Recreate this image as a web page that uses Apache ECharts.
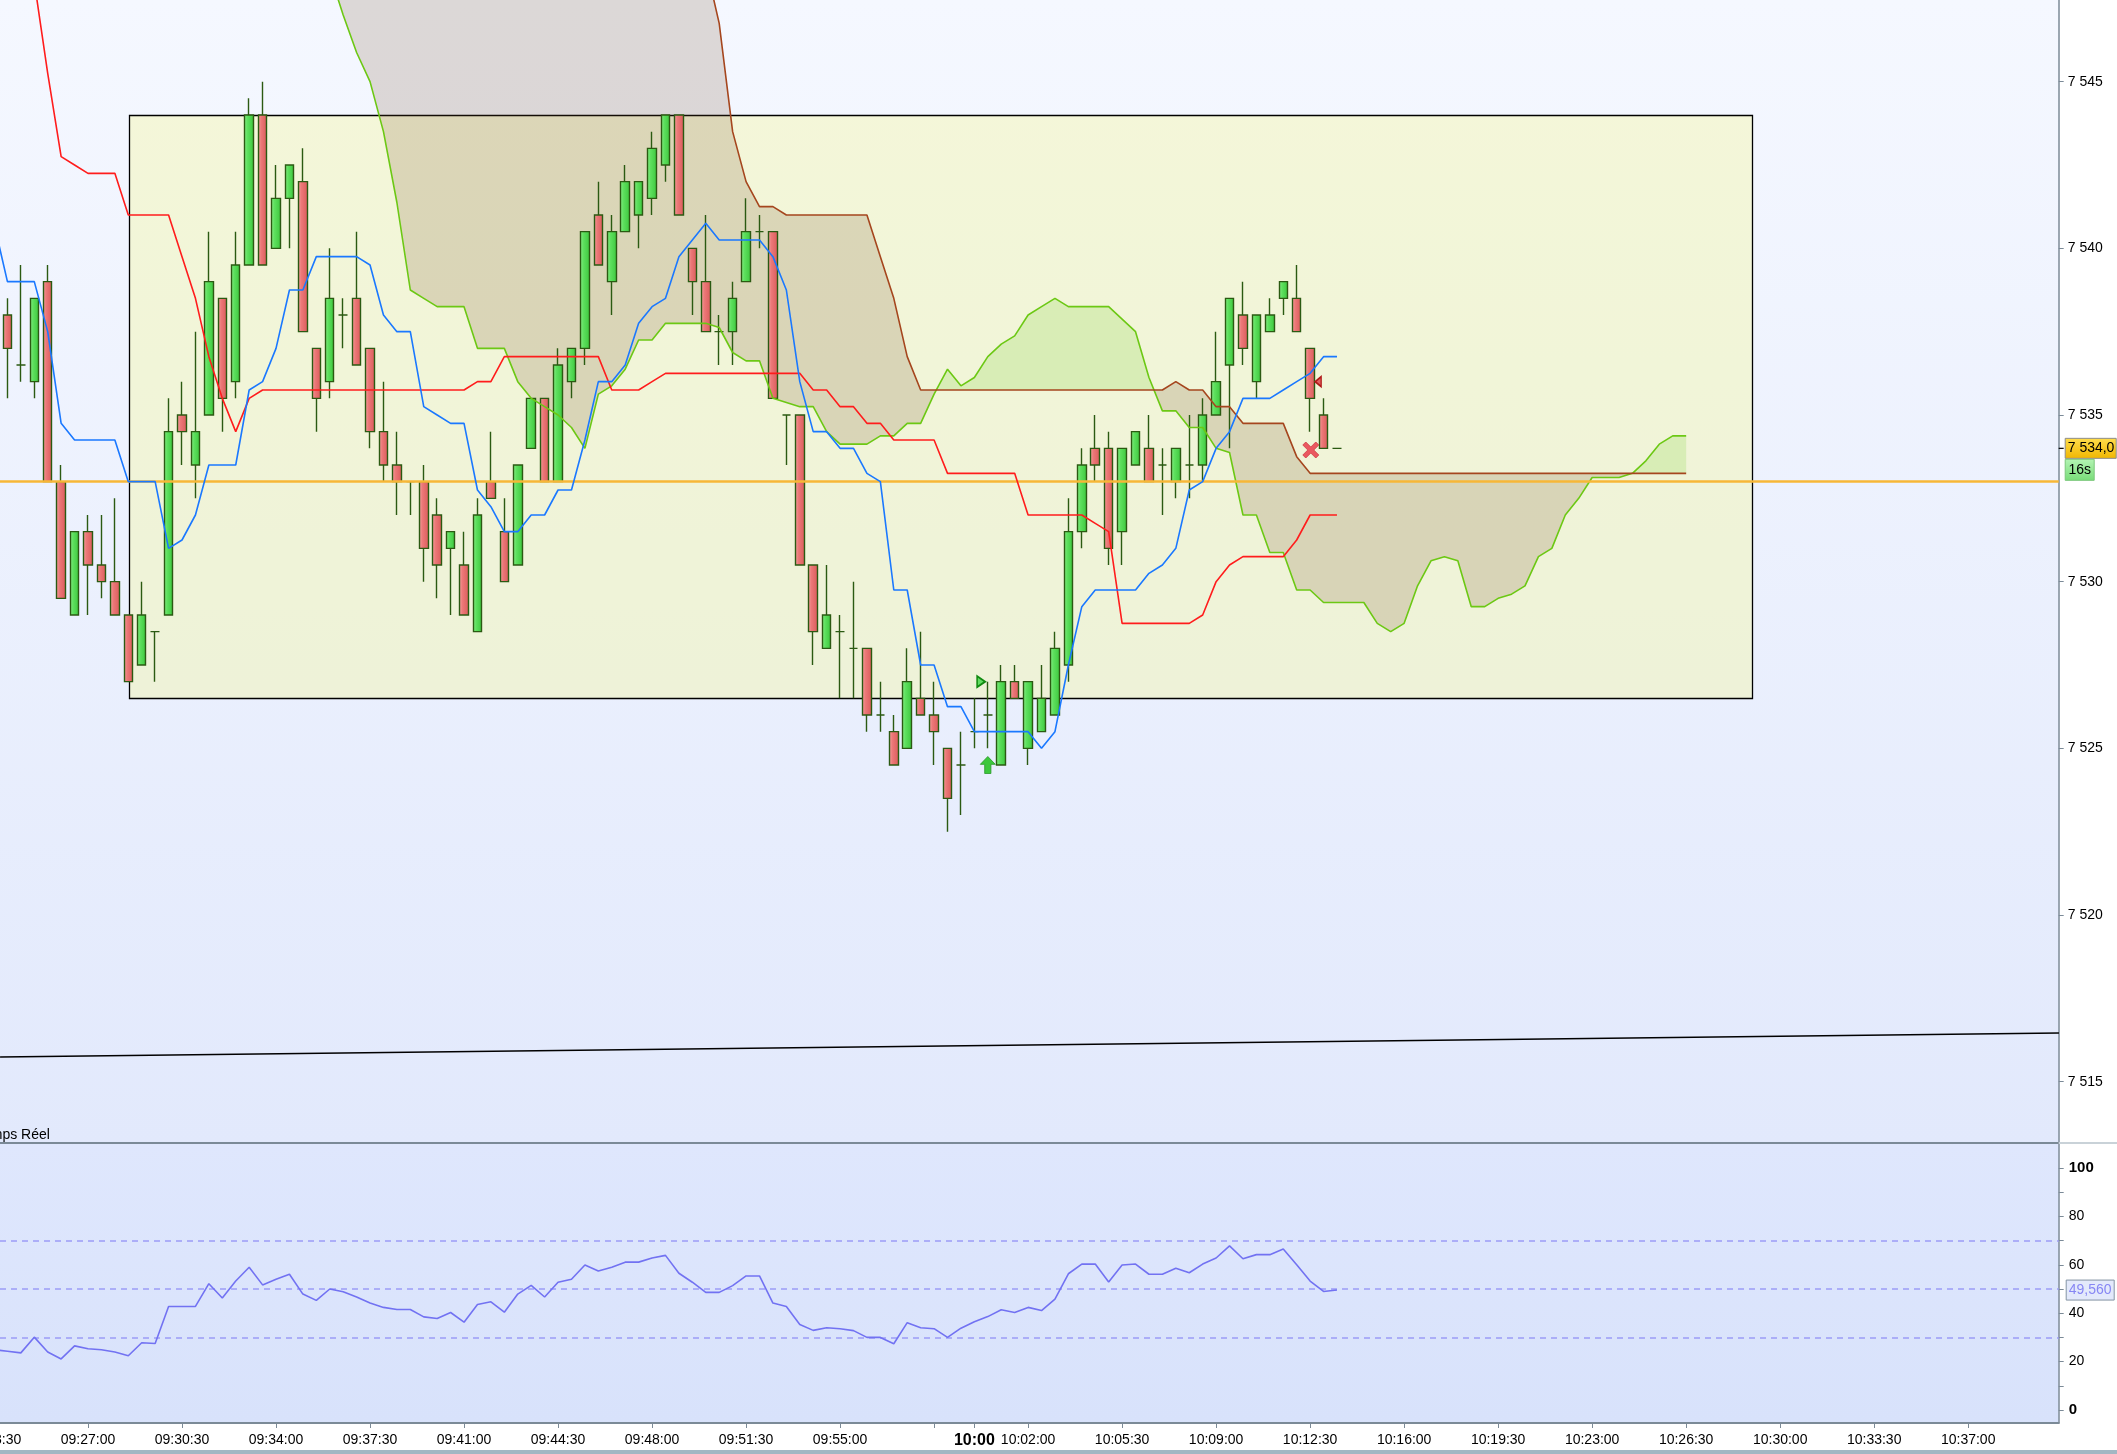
<!DOCTYPE html>
<html>
<head>
<meta charset="utf-8">
<title>Ichimoku 30s</title>
<script src="https://cdn.jsdelivr.net/npm/echarts@6.0.0/dist/echarts.min.js"></script>
<style>
  html, body { margin: 0; padding: 0; background: #ffffff; }
  #chart { width: 2117px; height: 1454px; }
</style>
</head>
<body>
<div id="chart"></div>
<script>
// 30 second bars, x = bar number counted from 09:27:00
const T0 = 9 * 3600 + 27 * 60;
const BAR_SEC = 30;
const FIRST_BAR = -6;       // first candle / first leading-span value
const LINE_FIRST_BAR = -7;  // tenkan, kijun and RSI start one bar earlier (left edge)

const opens = [7538, 7536.5, 7536, 7539, 7533, 7529,
  7531.5, 7530.5, 7530, 7529, 7527.5, 7528.5, 7529, 7535, 7533.5, 7535,
  7538.5, 7536, 7539.5, 7544, 7540, 7541.5, 7542, 7537, 7536, 7538,
  7538.5, 7537, 7534.5, 7533.5, 7533, 7533, 7532, 7531, 7530.5, 7528.5,
  7533, 7531.5, 7530.5, 7534, 7535.5, 7533, 7536, 7537, 7541, 7539,
  7540.5, 7541, 7541.5, 7542.5, 7544, 7540, 7539, 7537.5, 7537.5, 7539,
  7540.5, 7540.5, 7535, 7535, 7530.5, 7528, 7528.5, 7528, 7528, 7526,
  7525.5, 7525, 7526.5, 7526, 7525, 7524.5, 7525.5, 7526, 7524.5, 7527,
  7525, 7525.5, 7526, 7527.5, 7531.5, 7534, 7534, 7531.5, 7533.5, 7534,
  7533.5, 7533, 7533.5, 7533.5, 7535, 7536.5, 7538, 7536, 7537.5, 7538.5,
  7538.5, 7537, 7535, 7534];
const closes = [7537, 7536.5, 7538.5, 7533, 7529.5, 7531.5,
  7530.5, 7530, 7529, 7527, 7529, 7528.5, 7534.5, 7534.5, 7534.5, 7539,
  7535.5, 7539.5, 7544, 7539.5, 7541.5, 7542.5, 7537.5, 7535.5, 7538.5, 7538,
  7536.5, 7534.5, 7533.5, 7533, 7533, 7531, 7530.5, 7531.5, 7529, 7532,
  7532.5, 7530, 7533.5, 7535.5, 7533, 7536.5, 7537, 7540.5, 7539.5, 7540.5,
  7542, 7542, 7543, 7544, 7541, 7539, 7537.5, 7537.5, 7538.5, 7540.5,
  7540.5, 7535.5, 7535, 7530.5, 7528.5, 7529, 7528.5, 7528, 7526, 7526,
  7524.5, 7527, 7526, 7525.5, 7523.5, 7524.5, 7525.5, 7526, 7527, 7526.5,
  7527, 7526.5, 7528, 7531.5, 7533.5, 7533.5, 7531, 7534, 7534.5, 7533,
  7533.5, 7534, 7533.5, 7535, 7536, 7538.5, 7537, 7538, 7538, 7539,
  7537.5, 7535.5, 7534, 7534];
const lows = [7535.5, 7536, 7535.5, 7533, 7529.5, 7529,
  7529, 7529.5, 7529, 7527, 7527.5, 7527, 7529, 7533.5, 7532.5, 7535,
  7534.5, 7535.5, 7539.5, 7539.5, 7540, 7540, 7537.5, 7534.5, 7535.5, 7537,
  7536.5, 7534, 7533, 7532, 7532, 7530, 7529.5, 7529, 7529, 7528.5,
  7532.5, 7530, 7530.5, 7534, 7533, 7533, 7535.5, 7536.5, 7539.5, 7538,
  7540.5, 7540, 7541, 7542, 7541, 7538, 7537.5, 7536.5, 7536.5, 7539,
  7540, 7535.5, 7533.5, 7530.5, 7527.5, 7528, 7526.5, 7526.5, 7525.5, 7525.5,
  7524.5, 7525, 7526, 7524.5, 7522.5, 7523, 7525, 7525, 7524.5, 7526.5,
  7524.5, 7525.5, 7526, 7527, 7531, 7533, 7530.5, 7530.5, 7533.5, 7533,
  7532, 7532.5, 7532.5, 7533, 7535, 7534, 7536.5, 7535.5, 7537.5, 7538,
  7537.5, 7534.5, 7534, 7534];
const highs = [7538.5, 7539.5, 7538.5, 7539.5, 7533.5, 7531.5,
  7532, 7532, 7532.5, 7529, 7530, 7528.5, 7535.5, 7536, 7537.5, 7540.5,
  7538.5, 7540.5, 7544.5, 7545, 7542.5, 7542.5, 7543, 7537, 7540, 7538.5,
  7540.5, 7537, 7536, 7534.5, 7533, 7533.5, 7532.5, 7531.5, 7531.5, 7532.5,
  7534.5, 7532.5, 7533.5, 7535.5, 7535.5, 7537, 7537, 7540.5, 7542, 7541,
  7542.5, 7542, 7543.5, 7544, 7544, 7540, 7541, 7538, 7539, 7541.5,
  7541, 7540.5, 7535, 7535, 7530.5, 7530.5, 7529, 7530, 7528, 7527,
  7526, 7528, 7528.5, 7527, 7525, 7525.5, 7526.5, 7527, 7527.5, 7527.5,
  7527, 7527.5, 7528.5, 7532.5, 7534, 7535, 7534.5, 7534, 7534.5, 7535,
  7534, 7534, 7535, 7535.5, 7537.5, 7538.5, 7539, 7538, 7538.5, 7539,
  7539.5, 7537, 7535.5, 7534];

// Ichimoku lines (from bar -7)
const tenkan = [7540.75, 7539, 7539, 7539, 7537.5, 7534.75, 7534.25,
  7534.25, 7534.25, 7534.25, 7533, 7533, 7533, 7531, 7531.25, 7532, 7533.5,
  7533.5, 7533.5, 7535.75, 7536, 7537, 7538.75, 7538.75, 7539.75, 7539.75, 7539.75,
  7539.75, 7539.5, 7538, 7537.5, 7537.5, 7535.25, 7535, 7534.75, 7534.75, 7532.75,
  7532.25, 7531.5, 7531.5, 7532, 7532, 7532.75, 7532.75, 7534.25, 7536, 7536,
  7536.5, 7537.75, 7538.25, 7538.5, 7539.75, 7540.25, 7540.75, 7540.25, 7540.25, 7540.25,
  7540.25, 7539.75, 7538.75, 7536, 7534.5, 7534.5, 7534, 7534, 7533.25, 7533,
  7529.75, 7529.75, 7527.5, 7527.5, 7526.25, 7526.25, 7525.5, 7525.5, 7525.5, 7525.5,
  7525.5, 7525, 7525.5, 7527.5, 7529.25, 7529.75, 7529.75, 7529.75, 7529.75, 7530.25,
  7530.5, 7531, 7532.75, 7533, 7534, 7534.5, 7535.5, 7535.5, 7535.5, 7535.75,
  7536, 7536.25, 7536.75, 7536.75];
const kijun = [7551, 7550.5, 7549.5, 7548, 7545.25, 7542.75, 7542.5,
  7542.25, 7542.25, 7542.25, 7541, 7541, 7541, 7541, 7539.75, 7538.5, 7536.75,
  7535.5, 7534.5, 7535.5, 7535.75, 7535.75, 7535.75, 7535.75, 7535.75, 7535.75, 7535.75,
  7535.75, 7535.75, 7535.75, 7535.75, 7535.75, 7535.75, 7535.75, 7535.75, 7535.75, 7536,
  7536, 7536.75, 7536.75, 7536.75, 7536.75, 7536.75, 7536.75, 7536.75, 7536.75, 7535.75,
  7535.75, 7535.75, 7536, 7536.25, 7536.25, 7536.25, 7536.25, 7536.25, 7536.25, 7536.25,
  7536.25, 7536.25, 7536.25, 7536.25, 7535.75, 7535.75, 7535.25, 7535.25, 7534.75, 7534.75,
  7534.25, 7534.25, 7534.25, 7534.25, 7533.25, 7533.25, 7533.25, 7533.25, 7533.25, 7533.25,
  7532, 7532, 7532, 7532, 7532, 7531.75, 7531.5, 7528.75, 7528.75, 7528.75,
  7528.75, 7528.75, 7528.75, 7529, 7530, 7530.5, 7530.75, 7530.75, 7530.75, 7530.75,
  7531.25, 7532, 7532, 7532];
// leading spans, already displaced 26 bars ahead (bars -6 .. 119)
const spanA = [7550, 7550, 7550, 7550, 7550, 7550,
  7550, 7550, 7550, 7550, 7550, 7550, 7550, 7550, 7550, 7550,
  7550, 7550, 7550, 7550, 7550, 7550, 7550, 7549.5, 7548.25,
  7547, 7545.875, 7545, 7543.5, 7541.375, 7538.75, 7538.5, 7538.25, 7538.25, 7538.25, 7537,
  7537, 7537, 7536, 7535.5, 7535.25, 7535, 7534.625, 7534, 7535.625, 7535.875,
  7536.375, 7537.25, 7537.25, 7537.75, 7537.75, 7537.75, 7537.75, 7537.625, 7536.875, 7536.625,
  7536.625, 7535.5, 7535.375, 7535.25, 7535.25, 7534.5, 7534.125, 7534.125, 7534.125, 7534.375,
  7534.375, 7534.75, 7534.75, 7535.625, 7536.375, 7535.875, 7536.125, 7536.75, 7537.125, 7537.375,
  7538, 7538.25, 7538.5, 7538.25, 7538.25, 7538.25, 7538.25, 7537.875, 7537.5, 7536.125,
  7535.125, 7535.125, 7534.625, 7534.625, 7534, 7533.875, 7532, 7532, 7530.875, 7530.875,
  7529.75, 7529.75, 7529.375, 7529.375, 7529.375, 7529.375, 7528.75, 7528.5, 7528.75, 7529.875,
  7530.625, 7530.75, 7530.625, 7529.25, 7529.25, 7529.5, 7529.625, 7529.875, 7530.75, 7531,
  7532, 7532.5, 7533.125, 7533.125, 7533.125, 7533.25, 7533.625, 7534.125, 7534.375, 7534.375];
const spanB = [7552.5, 7552.5, 7552.5, 7552.5, 7552.5, 7552.5,
  7552.5, 7552.5, 7552.5, 7552.5, 7552.5, 7552.5, 7552.5, 7552.5, 7552.5, 7552.5,
  7552.5, 7552.5, 7552.5, 7552.5, 7552.5, 7552.5, 7552.5, 7552.5, 7552.5, 7552.5,
  7552.5, 7552.5, 7552.5, 7552.5, 7552.5, 7552.5, 7552.5, 7552.5, 7552.5, 7552.5,
  7552.5, 7552.5, 7552.5, 7552.5, 7552.5, 7552.5, 7552.5, 7552.5, 7552.5, 7552.5,
  7552.5, 7552.5, 7552.5, 7552.5, 7552.5, 7552.5, 7548.5, 7546.75, 7543.5, 7542,
  7541.25, 7541.25, 7541, 7541, 7541, 7541, 7541, 7541, 7541, 7539.75,
  7538.5, 7536.75, 7535.75, 7535.75, 7535.75, 7535.75, 7535.75, 7535.75, 7535.75, 7535.75,
  7535.75, 7535.75, 7535.75, 7535.75, 7535.75, 7535.75, 7535.75, 7535.75, 7535.75, 7535.75,
  7535.75, 7536, 7535.75, 7535.75, 7535.25, 7535.25, 7534.75, 7534.75, 7534.75, 7534.75,
  7533.75, 7533.25, 7533.25, 7533.25, 7533.25, 7533.25, 7533.25, 7533.25, 7533.25, 7533.25,
  7533.25, 7533.25, 7533.25, 7533.25, 7533.25, 7533.25, 7533.25, 7533.25, 7533.25, 7533.25,
  7533.25, 7533.25, 7533.25, 7533.25, 7533.25, 7533.25, 7533.25, 7533.25, 7533.25, 7533.25];

// RSI (from bar -7)
const rsi = [24.9, 24.3, 23.6, 30.1, 24.0, 21.1, 26.5,
  25.3, 24.9, 24.0, 22.4, 27.8, 27.5, 42.8, 42.8, 42.8, 52.2,
  46.3, 53.3, 59.0, 51.7, 54.0, 56.1, 47.9, 45.3, 50.0, 48.9,
  46.7, 44.2, 42.4, 41.5, 41.5, 38.5, 37.8, 40.3, 36.3, 43.6,
  44.7, 40.4, 47.9, 51.5, 46.7, 52.8, 54.0, 59.9, 57.4, 59.0,
  61.1, 61.1, 62.8, 63.9, 56.5, 52.8, 48.6, 48.6, 51.4, 55.4,
  55.4, 44.2, 42.8, 35.3, 32.9, 34.0, 33.6, 32.8, 30.0, 30.0,
  27.4, 36.1, 34.0, 33.6, 30.0, 33.8, 36.5, 38.6, 41.4, 40.3,
  42.4, 41.1, 45.8, 56.3, 60.3, 60.3, 52.9, 59.9, 60.3, 56.1,
  56.1, 58.6, 56.7, 60.3, 62.8, 67.8, 62.5, 64.2, 64.2, 66.5,
  60.0, 53.3, 49.0, 49.56];
const rsiLevels = [30, 50, 70];

const priceTicks = [7515, 7520, 7525, 7530, 7535, 7540, 7545];
const rsiLabelTicks = [0, 20, 40, 60, 80, 100];
const rsiMinorTicks = [0, 10, 20, 30, 40, 50, 60, 70, 80, 90, 100];

const lastPrice = 7534.0;
const countdown = '16s';
const lastRsi = 49.56;
const levelPrice = 7533;
const boxX = [3.08, 123.9];
const boxY = [7526.5, 7544];
const trendX = [-6.55, 146.76];
const trendY = [7515.74, 7516.46];
const buyArrow = [67, 7524.5];
const buyFlag = [66.5, 7527];
const exitCross = [91.05, 7533.95];
const exitFlag = [91.6, 7536];

// view window
const X_MIN = -6.553, X_MAX = 146.74;
const GRID_RIGHT = 58.3;
const P_MIN = 7513.16, P_MAX = 7547.45;
const R_MIN = -5.37, R_MAX = 110.33;

const FONT = 'Arial, "Liberation Sans", sans-serif';
const AXIS_GREY = '#7b8a97';

function pad(n) { return (n < 10 ? '0' : '') + n; }
function timeLabel(b) {
  const s = T0 + b * BAR_SEC;
  const hh = Math.floor(s / 3600), mm = Math.floor(s % 3600 / 60), ss = s % 60;
  if (s % 3600 === 0) return '{b|' + pad(hh) + ':' + pad(mm) + '}';
  return pad(hh) + ':' + pad(mm) + ':' + pad(ss);
}
function priceLabel(v) {
  const s = String(v);
  return s.slice(0, 1) + ' ' + s.slice(1);
}

const timeTicks = [];
for (let b = 0; b <= 140; b += 7) timeTicks.push(b);
timeTicks.push(66);
const timeLabels = timeTicks.filter(b => b !== 63);

const candleData = opens.map((o, i) => [FIRST_BAR + i, o, closes[i], lows[i], highs[i]]);
const pairs = (arr, start) => arr.map((v, i) => [start + i, v]);

const upFill = new echarts.graphic.LinearGradient(0, 0, 1, 0, [
  { offset: 0, color: '#8cf08c' }, { offset: 0.35, color: '#5ee05e' }, { offset: 1, color: '#3cc63c' }]);
const downFill = new echarts.graphic.LinearGradient(0, 0, 1, 0, [
  { offset: 0, color: '#f6a4a4' }, { offset: 0.35, color: '#ec7878' }, { offset: 1, color: '#da5a5a' }]);

const CLOUD_DOWN = 'rgba(110,70,32,0.18)';
const CLOUD_UP = 'rgba(142,214,80,0.25)';

function lineSeries(data, color, z, xi, yi) {
  return {
    type: 'line', xAxisIndex: xi || 0, yAxisIndex: yi || 0, data: data,
    symbol: 'none', showSymbol: false, silent: true, z: z,
    lineStyle: { color: color, width: 1.6 }
  };
}

function marker(pos, path, size, fill, stroke, bw) {
  return {
    type: 'scatter', xAxisIndex: 0, yAxisIndex: 0, z: 8, silent: true,
    data: [pos], symbol: path, symbolSize: size,
    itemStyle: { color: fill, borderColor: stroke, borderWidth: bw, opacity: 1 }
  };
}

const chart = echarts.init(document.getElementById('chart'));

const option = {
  animation: false,
  backgroundColor: '#ffffff',
  grid: [
    { left: 0, right: GRID_RIGHT, top: 0, height: 1143, show: true, borderWidth: 0,
      backgroundColor: new echarts.graphic.LinearGradient(0, 0, 0, 1, [
        { offset: 0, color: '#f5f8ff' }, { offset: 1, color: '#e2e9fc' }]) },
    { left: 0, right: GRID_RIGHT, top: 1143, height: 280, show: true, borderWidth: 0,
      backgroundColor: new echarts.graphic.LinearGradient(0, 0, 0, 1, [
        { offset: 0, color: '#dfe7fd' }, { offset: 1, color: '#d8e2fb' }]) }
  ],
  xAxis: [
    { gridIndex: 0, type: 'value', min: X_MIN, max: X_MAX,
      axisLine: { show: true, onZero: false, lineStyle: { color: AXIS_GREY, width: 2 } },
      axisTick: { show: false }, axisLabel: { show: false }, splitLine: { show: false } },
    { gridIndex: 1, type: 'value', min: X_MIN, max: X_MAX,
      axisLine: { show: true, onZero: false, lineStyle: { color: AXIS_GREY, width: 2 } },
      axisTick: { show: true, customValues: timeTicks, length: 5, lineStyle: { color: AXIS_GREY } },
      axisLabel: { customValues: timeLabels, formatter: timeLabel, margin: 10,
        fontSize: 14, fontFamily: FONT, color: '#000',
        rich: { b: { fontSize: 16, fontWeight: 'bold', fontFamily: FONT, color: '#000' } } },
      splitLine: { show: false } }
  ],
  yAxis: [
    { gridIndex: 0, type: 'value', position: 'right', min: P_MIN, max: P_MAX,
      axisLine: { show: true, onZero: false, lineStyle: { color: AXIS_GREY, width: 1.5 } },
      axisTick: { show: true, customValues: priceTicks, length: 5, lineStyle: { color: AXIS_GREY } },
      axisLabel: { customValues: priceTicks, formatter: priceLabel, margin: 9,
        fontSize: 14, fontFamily: FONT, color: '#000' },
      splitLine: { show: false } },
    { gridIndex: 1, type: 'value', position: 'right', min: R_MIN, max: R_MAX,
      axisLine: { show: true, onZero: false, lineStyle: { color: AXIS_GREY, width: 1.5 } },
      axisTick: { show: true, customValues: rsiMinorTicks, length: 5, lineStyle: { color: AXIS_GREY } },
      axisLabel: { customValues: rsiLabelTicks, margin: 10, fontSize: 14, fontFamily: FONT, color: '#000',
        formatter: v => (v === 0 || v === 100) ? '{b|' + v + '}' : String(v),
        rich: { b: { fontSize: 15, fontWeight: 'bold', fontFamily: FONT, color: '#000' } } },
      splitLine: { show: false } }
  ],
  series: [
    // zone rectangle
    { type: 'custom', xAxisIndex: 0, yAxisIndex: 0, z: 1, silent: true, clip: true,
      data: [[boxX[0], boxY[1], boxX[1], boxY[0]]],
      renderItem: function (params, api) {
        const p0 = api.coord([api.value(0), api.value(1)]);
        const p1 = api.coord([api.value(2), api.value(3)]);
        return { type: 'rect',
          shape: { x: Math.round(p0[0]) + 0.5, y: Math.round(p0[1]) + 0.5,
                   width: Math.round(p1[0] - p0[0]), height: Math.round(p1[1] - p0[1]) },
          style: { fill: 'rgba(244,248,160,0.4)', stroke: '#000', lineWidth: 1.3 } };
      } },
    // kumo
    { type: 'custom', xAxisIndex: 0, yAxisIndex: 0, z: 2, silent: true, clip: true,
      data: spanA.map((a, i) => [FIRST_BAR + i, a, spanB[i]]),
      renderItem: function (params, api) {
        if (params.dataIndex !== 0) return null;
        const children = [];
        let top = [], bot = [], sign = 0;
        const flush = function () {
          if (top.length > 1) {
            const pts = top.concat(bot.slice().reverse()).map(p => api.coord(p));
            children.push({ type: 'polygon', shape: { points: pts },
              style: { fill: sign > 0 ? CLOUD_DOWN : CLOUD_UP } });
          }
        };
        for (let i = 0; i < spanA.length; i++) {
          const x = FIRST_BAR + i, a = spanA[i], b = spanB[i];
          const s = b >= a ? 1 : -1;
          if (i > 0 && s !== sign) {
            const a0 = spanA[i - 1], b0 = spanB[i - 1];
            const d0 = b0 - a0, d1 = b - a;
            const t = d0 / (d0 - d1);
            const cross = [x - 1 + t, a0 + t * (a - a0)];
            top.push(cross); bot.push(cross);
            flush();
            top = [cross]; bot = [cross];
          }
          sign = s;
          top.push([x, b]); bot.push([x, a]);
        }
        flush();
        return { type: 'group', children: children };
      } },
    // candles
    { type: 'candlestick', xAxisIndex: 0, yAxisIndex: 0, z: 3, silent: true,
      barWidth: 9, data: candleData,
      itemStyle: { color: upFill, color0: downFill,
        borderColor: '#2b5a12', borderColor0: '#2b5a12', borderWidth: 1.4 } },
    lineSeries(pairs(spanA, FIRST_BAR), '#6cc814', 4),
    lineSeries(pairs(spanB, FIRST_BAR), '#a5461e', 4),
    lineSeries(pairs(kijun, LINE_FIRST_BAR), '#ff1c1c', 5),
    lineSeries(pairs(tenkan, LINE_FIRST_BAR), '#1a78ff', 5),
    // trend line + level
    Object.assign(lineSeries([[trendX[0], trendY[0]], [trendX[1], trendY[1]]], '#000000', 6), {
      lineStyle: { color: '#000', width: 1.4 },
      markLine: { silent: true, symbol: 'none', label: { show: false },
        lineStyle: { color: '#f7b737', width: 2.6, type: 'solid' },
        data: [{ yAxis: levelPrice }] } }),
    // RSI
    Object.assign(lineSeries(pairs(rsi, LINE_FIRST_BAR), '#7272f2', 5, 1, 1), {
      markLine: { silent: true, symbol: 'none', label: { show: false },
        lineStyle: { color: '#9c9cf6', width: 1.6, type: [6, 5] },
        data: rsiLevels.map(v => ({ yAxis: v })) } }),
    // signals
    marker(buyArrow, 'path://M6,0 L12,6 L8.5,6 L8.5,13 L3.5,13 L3.5,6 L0,6 Z', [15, 17], '#3cc83c', '#2a9a2a', 0.8),
    marker(buyFlag, 'path://M0,0 L8,5 L0,10 Z', [8, 11], '#62dc62', '#118a11', 1.8),
    marker(exitCross, 'path://M3,0 L8,5 L13,0 L16,3 L11,8 L16,13 L13,16 L8,11 L3,16 L0,13 L5,8 L0,3 Z', [16, 16], '#ea5860', '#cf3c44', 0.8),
    marker(exitFlag, 'path://M8,0 L0,5 L8,10 Z', [6, 10], '#e06262', '#b01818', 1.6)
  ]
};
chart.setOption(option);

// price / countdown / RSI tags on the right scale
const axisX = 2117 - GRID_RIGHT;
const yLast = chart.convertToPixel({ yAxisIndex: 0 }, lastPrice);
const yRsi = chart.convertToPixel({ yAxisIndex: 1 }, lastRsi);
const xFirstTick = chart.convertToPixel({ xAxisIndex: 1 }, -7);
const textFont = '14px ' + FONT;
chart.setOption({
  graphic: [
    // the 09:23:30 label sits half outside the left edge
    { type: 'text', silent: true, z: 21, x: xFirstTick, y: 1423 + 10,
      style: { text: timeLabel(-7), font: textFont, fill: '#000', align: 'center', verticalAlign: 'top' } },
    { type: 'line', silent: true, z: 20,
      shape: { x1: axisX, y1: yLast, x2: axisX + 5, y2: yLast }, style: { stroke: '#000', lineWidth: 1.2 } },
    { type: 'rect', silent: true, z: 20,
      shape: { x: axisX + 6.5, y: yLast - 10, width: 51, height: 20 },
      style: { fill: new echarts.graphic.LinearGradient(0, 0, 0, 1, [
        { offset: 0, color: '#ffdd4d' }, { offset: 1, color: '#f0b600' }]), stroke: '#8c8c8c', lineWidth: 1 } },
    { type: 'text', silent: true, z: 21, x: axisX + 9, y: yLast,
      style: { text: priceLabel(lastPrice.toFixed(1)).replace('.', ','), font: textFont, fill: '#000', verticalAlign: 'middle' } },
    { type: 'rect', silent: true, z: 20,
      shape: { x: axisX + 6.5, y: yLast + 11, width: 29, height: 21 },
      style: { fill: new echarts.graphic.LinearGradient(0, 0, 0, 1, [
        { offset: 0, color: '#b4f4b4' }, { offset: 1, color: '#78dc78' }]), stroke: '#7cc87c', lineWidth: 1 } },
    { type: 'text', silent: true, z: 21, x: axisX + 21, y: yLast + 21.5,
      style: { text: countdown, font: textFont, fill: '#000', align: 'center', verticalAlign: 'middle' } },
    { type: 'rect', silent: true, z: 20,
      shape: { x: axisX + 7.5, y: yRsi - 10, width: 48, height: 20 },
      style: { fill: '#e3e9fb', stroke: '#8494a4', lineWidth: 1 } },
    { type: 'text', silent: true, z: 21, x: axisX + 31.5, y: yRsi,
      style: { text: lastRsi.toFixed(3).replace('.', ','), font: textFont, fill: '#8686f4', align: 'center', verticalAlign: 'middle' } },
    { type: 'text', silent: true, z: 21, x: -24, y: 1135,
      style: { text: 'Temps Réel', font: textFont, fill: '#000', verticalAlign: 'middle' } },
    { type: 'line', silent: true, z: 20,
      shape: { x1: axisX, y1: 1143, x2: 2117, y2: 1143 }, style: { stroke: '#c9d2d8', lineWidth: 2 } },
    { type: 'rect', silent: true, z: 20,
      shape: { x: 0, y: 1450, width: 2117, height: 4 }, style: { fill: '#a2b7c3' } }
  ]
});
</script>
</body>
</html>
